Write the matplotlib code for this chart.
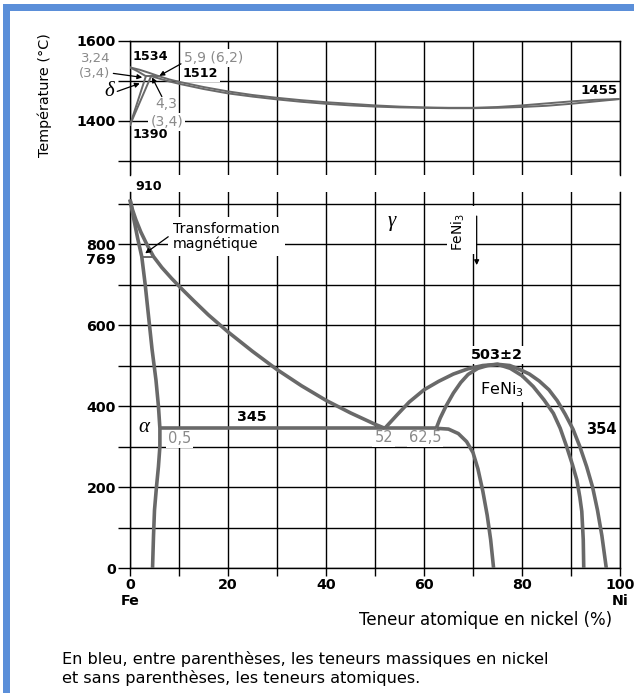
import matplotlib
matplotlib.use("Agg")
import matplotlib.pyplot as plt
from matplotlib.patches import Rectangle

plt.rcParams['font.family'] = ['DejaVu Sans']

# ---------------- high-temperature region (at.% Ni, °C) ----------------
delta_liq_x = [0, 2.0, 4.0, 5.9]
delta_liq_t = [1534, 1528, 1520, 1512]
delta_sol_x = [0, 1.6, 3.24]
delta_sol_t = [1534, 1524, 1512]
delta_solvus_x = [0, 3.24]
delta_solvus_t = [1390, 1512]
gamma_solvus_hi_x = [0, 4.3]
gamma_solvus_hi_t = [1390, 1512]
peritectic_x = [3.24, 5.9]
peritectic_t = [1512, 1512]
liquidus_x = [5.9, 8, 10, 15, 20, 25, 30, 35, 40, 45, 50, 55, 60, 65, 70, 75, 80, 85, 90, 95, 100]
liquidus_t = [1512, 1504, 1498, 1485, 1474, 1465, 1458, 1452, 1447, 1443, 1439, 1436, 1434, 1433, 1433, 1435, 1439, 1444, 1449, 1453, 1455]
solidus_x = [4.3, 6, 8, 10, 15, 20, 25, 30, 35, 40, 45, 50, 55, 60, 65, 70, 75, 80, 85, 90, 95, 100]
solidus_t = [1512, 1506, 1499, 1493, 1480, 1469, 1461, 1454, 1448, 1443, 1439, 1436, 1434, 1433, 1432, 1432, 1433, 1435, 1438, 1443, 1449, 1455]

# ---------------- low-temperature region ----------------
alpha_x = [0, 0.8, 1.6, 2.4, 3.1, 3.8, 4.5, 5.3, 5.8, 6.1, 6.1, 5.8, 5.4, 5.0, 4.8, 4.6]
alpha_t = [910, 860, 812, 769, 700, 620, 540, 464, 400, 345, 300, 250, 200, 143, 80, 0]
gamma_x = [0, 0.5, 1.2, 2.2, 3.4, 4.8, 6.5, 8.5, 10.5, 13, 16, 20, 25, 30, 35, 40, 45, 50, 52]
gamma_t = [910, 885, 860, 830, 800, 769, 742, 715, 690, 660, 625, 583, 535, 490, 450, 414, 383, 355, 345]
eutectoid_x = [6.1, 62.5]
eutectoid_t = [345, 345]
magnetic_x = [2.4, 4.8]
magnetic_t = [769, 769]
dome_outer_x = [52, 54.5, 57, 60, 63, 66, 69, 72, 75, 77.5, 79.6, 81.5, 83.5, 85.5, 87.2,
                88.8, 90.4, 91.8, 93.2, 94.4, 95.4, 96.3, 97.2]
dome_outer_t = [345, 378, 410, 440, 461, 479, 492, 500, 503, 500, 490, 479, 462, 440, 413,
                380, 343, 300, 250, 200, 143, 80, 0]
dome_inner_x = [62.5, 63.3, 64.5, 66, 67.5, 69, 71, 73, 75, 77.6, 80, 82.3, 84.5, 86.4,
                87.8, 89.1, 90.3, 91.2, 91.8, 92.2, 92.5, 92.6]
dome_inner_t = [345, 370, 400, 432, 458, 478, 493, 500, 503, 493, 475, 448, 415, 382,
                345, 300, 255, 217, 175, 140, 70, 0]
feni3_low_x = [62.5, 65, 67, 68.7, 70, 71, 72, 72.9, 73.6, 74.2]
feni3_low_t = [345, 343, 332, 312, 285, 245, 190, 130, 70, 0]

# ---------------- axes ticks ----------------
x_ticks = list(range(0, 101, 10))
x_labels = ['0\nFe', '', '20', '', '40', '', '60', '', '80', '', '100\nNi']
top_y_ticks = [1300, 1400, 1500, 1600]
top_y_labels = ['', '1400', '', '1600']
bot_y_ticks = list(range(0, 901, 100))
bot_y_labels = ['0', '', '200', '', '400', '', '600', '', '800', '']

W, H = 634, 693
fig = plt.figure(figsize=(W / 100, H / 100), dpi=100)

def fx(px):
    return px / W

def fy(py):
    return 1 - py / H

PHASE = '#696969'
GREY = '#8a8a8a'
GRID_LW = 1.0
TICK_FS = 10.3

ax_top = fig.add_axes([fx(130), fy(175), fx(620) - fx(130), fy(41) - fy(175)])
ax_bot = fig.add_axes([fx(130), fy(568), fx(620) - fx(130), fy(192.2) - fy(568)])

for ax in (ax_top, ax_bot):
    ax.set_xlim(0, 100)
    ax.set_axisbelow(True)
    ax.grid(True, color='black', lw=GRID_LW)
    ax.set_xticks(x_ticks)
    for s in ax.spines.values():
        s.set_color('black')
        s.set_linewidth(GRID_LW)
    ax.tick_params(axis='y', length=8.6, width=GRID_LW, pad=1.5, labelsize=TICK_FS)

ax_top.set_ylim(1265, 1600)
ax_top.spines['bottom'].set_visible(False)
ax_top.set_yticks(top_y_ticks)
ax_top.set_yticklabels(top_y_labels)
ax_top.tick_params(axis='x', length=0, labelbottom=False)

ax_bot.set_ylim(0, 928)
ax_bot.spines['top'].set_visible(False)
ax_bot.set_yticks(bot_y_ticks)
ax_bot.set_yticklabels(bot_y_labels)
ax_bot.set_xticklabels(x_labels)
ax_bot.tick_params(axis='x', length=5.8, width=GRID_LW, pad=1.5, labelsize=TICK_FS)

for ax in (ax_top, ax_bot):
    for lab in ax.get_xticklabels() + ax.get_yticklabels():
        lab.set_fontweight('bold')

# ---------------- phase boundaries ----------------
top_kw = dict(color=PHASE, lw=1.4, zorder=3, solid_capstyle='round')
for xs, ts in [(delta_liq_x, delta_liq_t), (delta_sol_x, delta_sol_t),
               (delta_solvus_x, delta_solvus_t), (gamma_solvus_hi_x, gamma_solvus_hi_t),
               (peritectic_x, peritectic_t), (liquidus_x, liquidus_t),
               (solidus_x, solidus_t)]:
    ax_top.plot(xs, ts, **top_kw)

bot_kw = dict(color=PHASE, lw=2.6, zorder=3, solid_capstyle='butt', solid_joinstyle='round')
for xs, ts in [(alpha_x, alpha_t), (gamma_x, gamma_t), (eutectoid_x, eutectoid_t),
               (dome_outer_x, dome_outer_t), (dome_inner_x, dome_inner_t),
               (feni3_low_x, feni3_low_t)]:
    ax_bot.plot(xs, ts, clip_on=False, **bot_kw)
ax_bot.plot(magnetic_x, magnetic_t, color=PHASE, lw=1.4, zorder=3)

# ---------------- annotations ----------------
WHITE = dict(facecolor='white', edgecolor='none', boxstyle='square,pad=0.15')
ARROW = dict(arrowstyle='-|>', color='black', lw=0.9, mutation_scale=7,
             shrinkA=0, shrinkB=0)
GREEK = dict(family='Liberation Serif', style='italic', fontsize=15)

def label(ax, x, t, s, size, color='black', weight='normal', ha='center', box=False, **kw):
    ax.text(x, t, s, fontsize=size, color=color, fontweight=weight, ha=ha, va='center',
            bbox=WHITE if box else None, zorder=4 if not box else 2.5, clip_on=False, **kw)

def arrow(ax, tail, head):
    ax.annotate('', xy=head, xytext=tail, arrowprops=ARROW, annotation_clip=False, zorder=5)

# top panel
label(ax_top, 4.2, 1561, '1534', 9.2, weight='bold')
label(ax_top, -4.0, 1557, '3,24', 9.5, color=GREY, ha='right')
label(ax_top, -4.0, 1519, '(3,4)', 9.5, color=GREY, ha='right')
arrow(ax_top, (-3.4, 1519), (2.5, 1509))
ax_top.text(-4.3, 1474, 'δ', ha='center', va='center', zorder=4, clip_on=False, **GREEK)
arrow(ax_top, (-2.6, 1474), (2.0, 1494))
label(ax_top, 17.0, 1557, '5,9 (6,2)', 10, color=GREY, box=True)
arrow(ax_top, (10.4, 1543), (6.0, 1513))
label(ax_top, 14.3, 1519, '1512', 9.2, weight='bold', box=True)
label(ax_top, 7.5, 1442, '4,3', 10, color=GREY)
arrow(ax_top, (6.5, 1461), (4.5, 1509))
label(ax_top, 7.5, 1398, '(3,4)', 10, color=GREY, box=True)
label(ax_top, 4.2, 1365, '1390', 9.2, weight='bold')
label(ax_top, 99.6, 1477, '1455', 9.6, weight='bold', ha='right')

# bottom panel
label(ax_bot, 3.9, 942, '910', 9.2, weight='bold')
ax_bot.annotate('769', xy=(0, 761), xycoords=('axes fraction', 'data'),
                xytext=(-8.6 - 1.5, 0), textcoords='offset points', ha='right', va='center',
                fontsize=TICK_FS, fontweight='bold', annotation_clip=False)
ax_bot.text(8.8, 819, 'Transformation\nmagnétique', fontsize=10.2, ha='left', va='center',
            linespacing=1.05, zorder=2.5,
            bbox=dict(facecolor='white', edgecolor='none', boxstyle='square,pad=0.35'))
arrow(ax_bot, (7.8, 818), (3.1, 777))
ax_bot.text(53.4, 855, 'γ', ha='center', va='center', zorder=4, **GREEK)
ax_bot.add_patch(Rectangle((64.6, 775), 6.0, 118, facecolor='white', edgecolor='none', zorder=2.4))
ax_bot.text(67.0, 831, 'FeNi$_3$', rotation=90, fontsize=10, ha='center', va='center', zorder=4)
arrow(ax_bot, (70.75, 869), (70.75, 748))
ax_bot.text(2.9, 346, 'α', ha='center', va='center', zorder=4, **GREEK)
label(ax_bot, 24.8, 374, '345', 10.3, weight='bold')
label(ax_bot, 10.1, 321, '0,5', 10.5, color=GREY, box=True)
label(ax_bot, 51.8, 322, '52', 10.5, color=GREY, box=True)
label(ax_bot, 60.2, 322, '62,5', 10.5, color=GREY, box=True)
label(ax_bot, 74.8, 526, '503±2', 10.4, weight='bold', box=True)
label(ax_bot, 75.9, 440, 'FeNi$_3$', 11.5, box=True)
label(ax_bot, 96.1, 343, '354', 10.6, weight='bold')

# ---------------- figure texts ----------------
fig.text(fx(45), fy(95), 'Température (°C)', rotation=90, ha='center', va='center', fontsize=10.4)
fig.text(fx(612), fy(620), 'Teneur atomique en nickel (%)', ha='right', va='center', fontsize=12)
fig.text(fx(62), fy(659), 'En bleu, entre parenthèses, les teneurs massiques en nickel',
         ha='left', va='center', fontsize=11.6)
fig.text(fx(62), fy(678), 'et sans parenthèses, les teneurs atomiques.',
         ha='left', va='center', fontsize=11.6)

# frame bands
BLUE = '#5b8fd9'
fig.patches.append(Rectangle((fx(3), fy(11)), 1 - fx(3), fy(4) - fy(11), transform=fig.transFigure,
                             facecolor=BLUE, edgecolor='none', zorder=0))
fig.patches.append(Rectangle((fx(3), 0), fx(10) - fx(3), fy(4), transform=fig.transFigure,
                             facecolor=BLUE, edgecolor='none', zorder=0))

fig.savefig('out.png', dpi=100, facecolor='white')
